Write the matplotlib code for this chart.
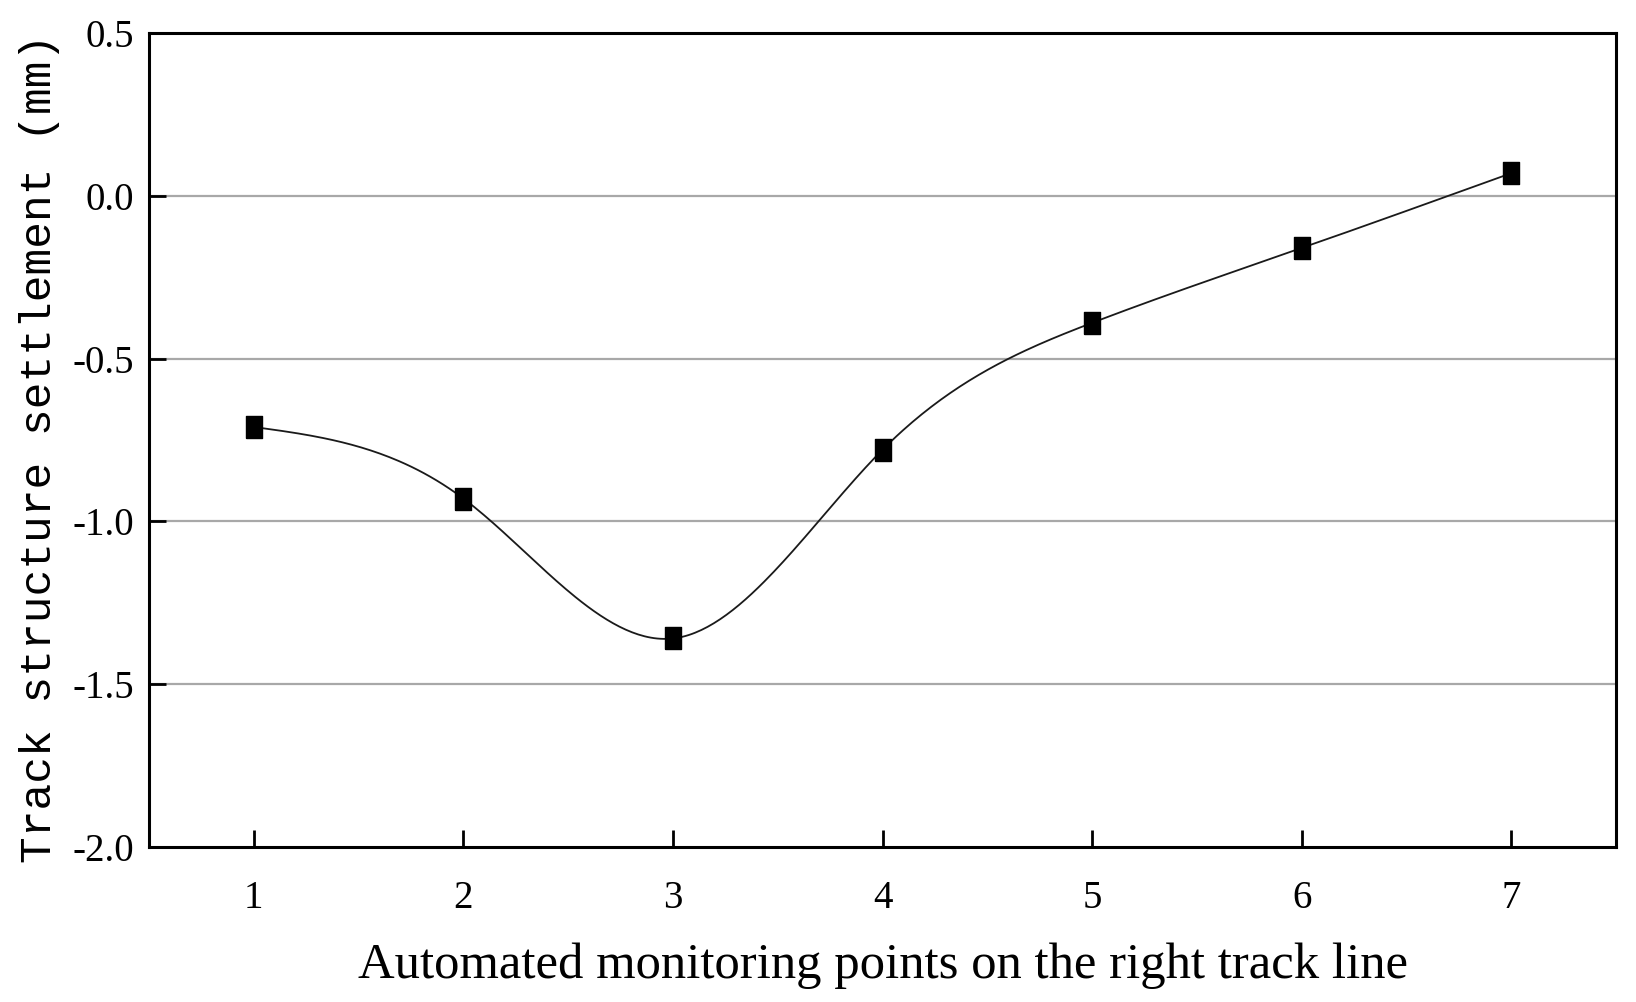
import numpy as np
import matplotlib
matplotlib.use('Agg')
import matplotlib.pyplot as plt
from matplotlib import font_manager

# monitoring points and settlement values (mm)
points = [1, 2, 3, 4, 5, 6, 7]
settlement = [-0.71, -0.93, -1.36, -0.78, -0.39, -0.16, 0.07]
y_ticks = [-2.0, -1.5, -1.0, -0.5, 0.0, 0.5]
y_tick_labels = ['-2.0', '-1.5', '-1.0', '-0.5', '0.0', '0.5']

xlabel = 'Automated monitoring points on the right track line'
ylabel = 'Track structure settlement (mm)'


def natural_spline(x, y, n=400):
	#natural cubic spline through the points, for drawing the smooth connecting line
	x = np.asarray(x, float)
	y = np.asarray(y, float)
	k = len(x)
	h = np.diff(x)
	A = np.zeros((k, k))
	b = np.zeros(k)
	A[0, 0] = A[-1, -1] = 1
	for i in range(1, k - 1):
		A[i, i - 1] = h[i - 1]
		A[i, i] = 2 * (h[i - 1] + h[i])
		A[i, i + 1] = h[i]
		b[i] = 6 * ((y[i + 1] - y[i]) / h[i] - (y[i] - y[i - 1]) / h[i - 1])
	m = np.linalg.solve(A, b)
	xs = np.linspace(x[0], x[-1], n)
	idx = np.clip(np.searchsorted(x, xs) - 1, 0, k - 2)
	t = xs - x[idx]
	hi = h[idx]
	a = y[idx]
	bb = (y[idx + 1] - y[idx]) / hi - hi * (2 * m[idx] + m[idx + 1]) / 6
	c = m[idx] / 2
	d = (m[idx + 1] - m[idx]) / (6 * hi)
	return xs, a + bb * t + c * t ** 2 + d * t ** 3


plt.rcParams['font.family'] = ['Liberation Serif', 'DejaVu Serif']

# serif monospace for the y label if there is one, else the serif face
names = set(f.name for f in font_manager.fontManager.ttflist)
mono = 'Liberation Mono' if 'Liberation Mono' in names else 'Liberation Serif'

fig = plt.figure(figsize=(16.36, 10.02), dpi=100)
ax = fig.add_axes([0.0911, 0.155, 0.8967, 0.8118])

for y in y_ticks[1:-1]:
	ax.axhline(y, color='#a8a8a8', lw=1.6, zorder=1)

xs, ys = natural_spline(points, settlement)
ax.plot(xs, ys, color='#1a1a1a', lw=1.3, zorder=2)

rect = [(-0.38, -0.5), (0.38, -0.5), (0.38, 0.5), (-0.38, 0.5), (-0.38, -0.5)]
ax.plot(points, settlement, linestyle='none', marker=rect, markersize=16,
	color='black', zorder=3)

ax.set_xlim(0.5, 7.5)
ax.set_ylim(-2.0, 0.5)
ax.set_xticks(points)
ax.set_xticklabels([str(p) for p in points])
ax.set_yticks(y_ticks)
ax.set_yticklabels(y_tick_labels)

for s in ax.spines.values():
	s.set_linewidth(2.2)
ax.tick_params(direction='in', length=12, width=2, labelsize=28)
ax.tick_params(axis='y', pad=11)
ax.tick_params(axis='x', pad=24)

ax.set_xlabel(xlabel, fontsize=36.5, labelpad=18)
ax.set_ylabel(ylabel, fontsize=32, family=mono)
ax.yaxis.set_label_coords(-0.061, 0.49)

fig.savefig('out.png', dpi=100)
